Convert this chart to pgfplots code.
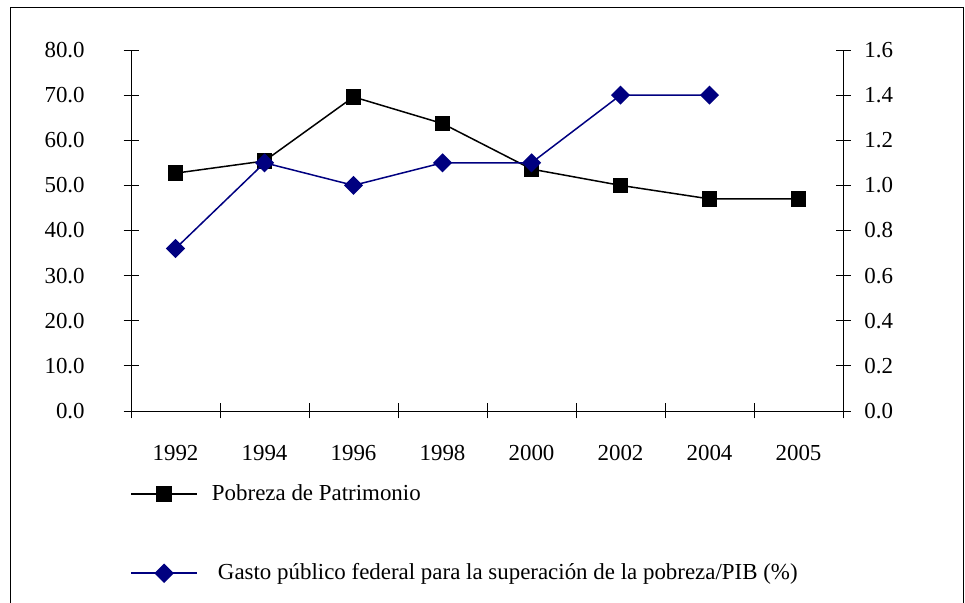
\documentclass[border=0pt]{standalone}
\usepackage{pgfplots}
\pgfplotsset{compat=1.18}
\usepackage{fontspec}
\setmainfont{Liberation Serif}
\definecolor{navyline}{RGB}{0,0,128}

\begin{document}
\fontsize{23}{27}\selectfont
\begin{tikzpicture}[x=1bp,y=1bp]
\useasboundingbox (0,0) rectangle (965,603);
% outer frame (bottom edge is cut off)
\draw[line width=1bp] (10,-10) -- (10,595) -- (963,595) -- (963,-10);

\begin{axis}[
    at={(131bp,192bp)}, anchor=south west,
    scale only axis, width=712bp, height=361bp,
    xmin=-0.5, xmax=7.5, ymin=0, ymax=80,
    axis x line=bottom, axis y line=left,
    axis line style={-, line width=0.8bp},
    xtick={0,...,7},
    xticklabels={1992,1994,1996,1998,2000,2002,2004,2005},
    major x tick style={draw=none},
    minor xtick={-0.5,0.5,1.5,2.5,3.5,4.5,5.5,6.5,7.5},
    minor x tick style={line width=0.8bp},
    minor tick length=15bp,
    ytick={0,10,...,80},
    major tick length=15bp,
    tick align=center,
    tick style={line width=0.8bp, black},
    y tick label style={/pgf/number format/fixed, /pgf/number format/fixed zerofill, /pgf/number format/precision=1},
    /pgf/number format/assume math mode=true,
    ticklabel style={font=\fontsize{23}{27}\selectfont},
    xticklabel style={yshift=-19bp},
    yticklabel style={xshift=-31bp},
    legend style={at={(0,0)}, anchor=north west, xshift=-1bp, yshift=-71bp,
        draw=none, fill=none, font=\fontsize{23}{27}\selectfont,
        row sep=56bp, inner sep=0pt,
        /tikz/every odd column/.append style={column sep=12bp}},
    legend cell align=left,
    legend image code/.code={\draw[mark repeat=2,mark phase=2,#1] plot coordinates {(0bp,0bp) (33bp,0bp) (66bp,0bp)};},
]
\addplot[black, line width=1.5bp, mark=square*, mark size=7bp, mark options={solid}]
  coordinates {(0,52.7) (1,55.4) (2,69.6) (3,63.7) (4,53.6) (5,50.0) (6,47.0) (7,47.0)};
\addlegendentry{Pobreza de Patrimonio}
\addlegendimage{navyline, line width=1.8bp, mark=square*, mark size=6bp, mark options={rotate=45}}
\addlegendentry{\hspace{6bp}Gasto público federal para la superación de la pobreza/PIB (\%)}
\end{axis}

\begin{axis}[
    at={(131bp,192bp)}, anchor=south west,
    scale only axis, width=712bp, height=361bp,
    xmin=-0.5, xmax=7.5, ymin=0, ymax=1.6,
    axis x line=none, axis y line=right,
    axis line style={-, line width=0.8bp},
    ytick={0,0.2,...,1.6},
    major tick length=15bp,
    tick align=center,
    tick style={line width=0.8bp, black},
    y tick label style={/pgf/number format/fixed, /pgf/number format/fixed zerofill, /pgf/number format/precision=1},
    /pgf/number format/assume math mode=true,
    ticklabel style={font=\fontsize{23}{27}\selectfont},
    yticklabel style={xshift=6bp},
]
\addplot[navyline, line width=1.5bp, mark=square*, mark size=6bp, mark options={rotate=45}]
  coordinates {(0,0.72) (1,1.10) (2,1.00) (3,1.10) (4,1.10) (5,1.40) (6,1.40)};
\end{axis}
\end{tikzpicture}
\end{document}
